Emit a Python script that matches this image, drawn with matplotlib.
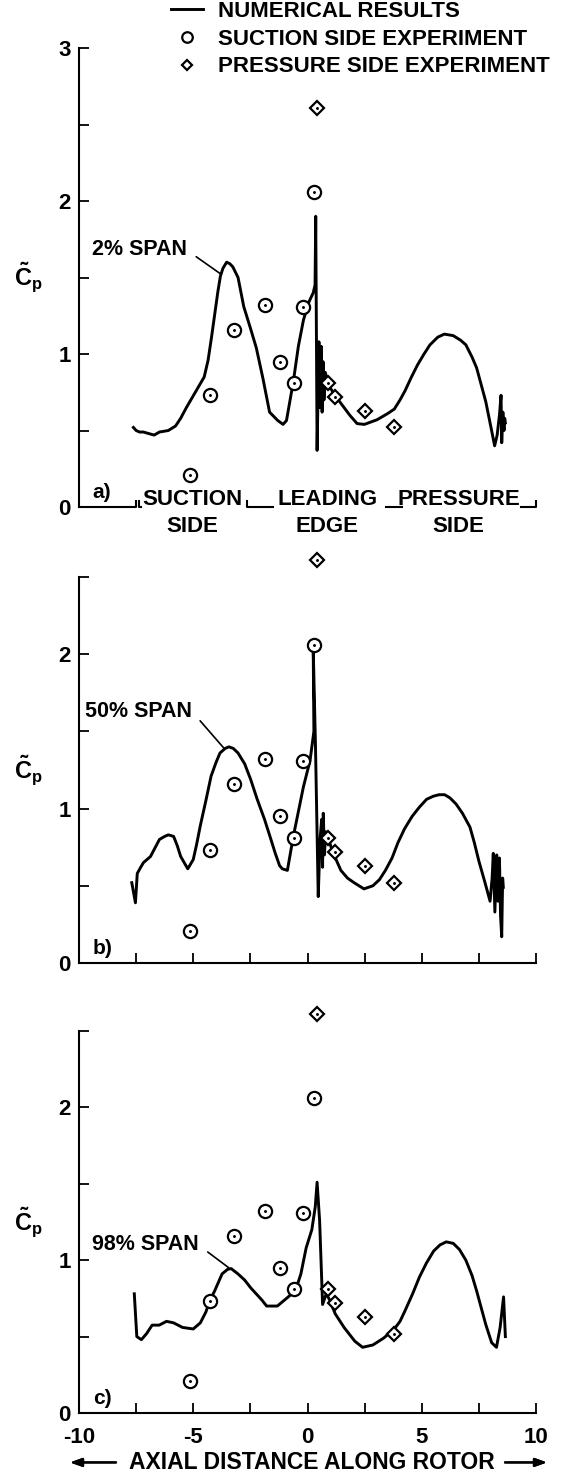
import matplotlib
matplotlib.use("Agg")
import matplotlib.pyplot as plt

# fonts: bold helvetica-like text, bold math for the C~p label
plt.rcParams['font.family'] = ['Liberation Sans', 'DejaVu Sans']
plt.rcParams['font.weight'] = 'bold'
plt.rcParams['mathtext.fontset'] = 'custom'
plt.rcParams['mathtext.rm'] = 'Liberation Sans:bold'
plt.rcParams['mathtext.it'] = 'Liberation Sans:bold'
plt.rcParams['mathtext.bf'] = 'Liberation Sans:bold'
plt.rcParams['axes.unicode_minus'] = False

# experiment points (same in all three panels)
suction_x = [-5.15, -4.28, -3.2, -1.88, -1.2, -0.6, -0.2, 0.28]
suction_y = [0.21, 0.73, 1.16, 1.32, 0.95, 0.81, 1.31, 2.06]
pressure_x = [0.4, 0.88, 1.22, 2.5, 3.8]
pressure_y = [2.61, 0.81, 0.72, 0.63, 0.52]

# numerical results, 2% span
span2_x = [-7.62, -7.5, -7.35, -7.18, -6.95, -6.71, -6.48, -6.09, -5.77, -5.55,
           -5.30, -4.91, -4.52, -4.35, -4.20, -3.92, -3.81, -3.70, -3.54, -3.40,
           -3.27, -3.04, -2.79, -2.50, -2.24, -1.95, -1.66, -1.30, -1.07, -0.92,
           -0.62, -0.40, -0.18, 0.03, 0.25, 0.33, 0.36, 0.42, 0.50, 0.55,
           0.60, 0.64, 0.68, 0.72, 0.78, 0.90, 1.25, 1.55, 1.85, 2.17,
           2.49, 3.04, 3.50, 3.80, 4.05, 4.27, 4.55, 4.82, 5.10, 5.36,
           5.70, 5.99, 6.38, 6.70, 6.93, 7.20, 7.40, 7.60, 7.80, 8.03,
           8.19, 8.30, 8.40, 8.47, 8.50, 8.55, 8.60, 8.63, 8.66]
span2_y = [0.52, 0.50, 0.49, 0.49, 0.48, 0.47, 0.49, 0.50, 0.53, 0.58,
           0.65, 0.75, 0.85, 0.96, 1.11, 1.41, 1.51, 1.56, 1.60, 1.59,
           1.57, 1.50, 1.31, 1.17, 1.04, 0.84, 0.62, 0.565, 0.54, 0.565,
           0.82, 1.05, 1.22, 1.33, 1.40, 1.45, 1.90, 0.37, 1.08, 0.65,
           1.05, 0.62, 0.95, 0.70, 0.88, 0.80, 0.72, 0.66, 0.60, 0.545,
           0.54, 0.57, 0.61, 0.64, 0.70, 0.76, 0.85, 0.93, 1.00, 1.06,
           1.11, 1.13, 1.12, 1.09, 1.06, 0.98, 0.91, 0.80, 0.69, 0.52,
           0.40, 0.47, 0.60, 0.73, 0.42, 0.62, 0.50, 0.58, 0.55]

# numerical results, 50% span
span50_x = [-7.69, -7.53, -7.45, -7.30, -7.18, -6.87, -6.48, -6.25, -6.09, -5.86,
            -5.70, -5.55, -5.24, -5.0, -4.85, -4.69, -4.45, -4.22, -4.00, -3.83,
            -3.60, -3.44, -3.25, -3.04, -2.75, -2.49, -2.20, -1.88, -1.60, -1.41,
            -1.22, -1.10, -0.88, -0.62, -0.40, -0.18, 0.11, 0.28, 0.25, 0.35,
            0.47, 0.55, 0.62, 0.66, 0.69, 0.74, 0.80, 0.88, 1.10, 1.46,
            1.75, 2.04, 2.47, 2.86, 3.15, 3.41, 3.70, 3.96, 4.25, 4.58,
            4.90, 5.21, 5.50, 5.76, 6.00, 6.23, 6.50, 6.78, 7.11, 7.30,
            7.50, 7.75, 7.99, 8.08, 8.13, 8.20, 8.28, 8.34, 8.40, 8.45,
            8.50, 8.54, 8.57]
span50_y = [0.52, 0.39, 0.58, 0.62, 0.65, 0.69, 0.80, 0.82, 0.83, 0.82,
            0.76, 0.69, 0.61, 0.67, 0.77, 0.89, 1.05, 1.21, 1.30, 1.36,
            1.39, 1.40, 1.39, 1.36, 1.29, 1.19, 1.06, 0.93, 0.80, 0.71,
            0.63, 0.61, 0.60, 0.82, 0.98, 1.14, 1.31, 1.50, 2.04, 1.40,
            0.43, 0.80, 0.93, 0.62, 0.97, 0.70, 0.85, 0.82, 0.72, 0.60,
            0.55, 0.52, 0.48, 0.50, 0.54, 0.60, 0.68, 0.78, 0.87, 0.95,
            1.01, 1.06, 1.08, 1.09, 1.09, 1.07, 1.03, 0.97, 0.88, 0.78,
            0.66, 0.53, 0.40, 0.55, 0.71, 0.33, 0.70, 0.40, 0.68, 0.30,
            0.17, 0.55, 0.49]

# numerical results, 98% span
span98_x = [-7.58, -7.47, -7.27, -7.04, -6.80, -6.49, -6.17, -5.86, -5.47, -5.0,
            -4.69, -4.45, -4.29, -4.06, -3.74, -3.50, -3.34, -3.04, -2.75, -2.49,
            -2.0, -1.79, -1.32, -0.92, -0.53, -0.29, -0.06, 0.19, 0.34, 0.42,
            0.53, 0.66, 0.82, 0.97, 1.21, 1.60, 2.07, 2.41, 2.86, 3.33,
            3.80, 4.05, 4.27, 4.60, 4.90, 5.20, 5.52, 5.80, 6.07, 6.38,
            6.65, 6.93, 7.20, 7.40, 7.60, 7.80, 8.06, 8.27, 8.43, 8.58, 8.66]
span98_y = [0.78, 0.50, 0.48, 0.52, 0.575, 0.575, 0.60, 0.59, 0.56, 0.55,
            0.59, 0.66, 0.73, 0.80, 0.91, 0.94, 0.945, 0.91, 0.87, 0.82,
            0.74, 0.70, 0.70, 0.75, 0.80, 0.91, 1.08, 1.20, 1.35, 1.51,
            1.26, 0.71, 0.78, 0.74, 0.65, 0.56, 0.47, 0.43, 0.445, 0.49,
            0.55, 0.60, 0.67, 0.78, 0.89, 0.98, 1.06, 1.10, 1.12, 1.11,
            1.07, 1.00, 0.90, 0.80, 0.69, 0.58, 0.46, 0.43, 0.56, 0.76, 0.50]

curves_x = [span2_x, span50_x, span98_x]
curves_y = [span2_y, span50_y, span98_y]
span_labels = ["2% SPAN", "50% SPAN", "98% SPAN"]
# label text position (right end) and end of its leader line
label_pos = [(-5.29, 1.68), (-5.06, 1.63), (-4.78, 1.10)]
leader_end = [(-3.77, 1.52), (-3.65, 1.39), (-3.44, 0.95)]
panel_letters = ["a)", "b)", "c)"]
y_tops = [3, 2.5, 2.5]

x_ticks = [-10, -7.5, -5, -2.5, 0, 2.5, 5, 7.5, 10]
x_tick_labels = ["-10", "", "-5", "", "0", "", "5", "", "10"]

# bottom of panel a: bracket pieces and blade region names
bracket_lines = [([-10, -7.5, -7.5], [0, 0, 0.04]),
                 ([-7.38, -7.38, -7.3], [0.04, 0, 0]),
                 ([-2.64, -2.64, -1.5], [0.04, 0, 0]),
                 ([3.42, 4.12], [0, 0]),
                 ([9.36, 10, 10], [0, 0, 0.04])]
region_x = [-5.03, 0.86, 6.62]
region_top = ["SUCTION", "LEADING", "PRESSURE"]
region_bottom = ["SIDE", "EDGE", "SIDE"]

fig = plt.figure(figsize=(5.63, 14.72), dpi=100)
left = 79 / 563
width = 457 / 563
axes_rects = [[left, 1 - 507 / 1472, width, 459 / 1472],
              [left, 1 - 963 / 1472, width, 386 / 1472],
              [left, 1 - 1413 / 1472, width, 382 / 1472]]

axes = []
for i in range(3):
    ax = fig.add_axes(axes_rects[i])
    axes.append(ax)
    line, = ax.plot(curves_x[i], curves_y[i], color='black', lw=2.1,
                    solid_joinstyle='round')
    circ, = ax.plot(suction_x, suction_y, 'o', ms=9.5, mfc='white', mec='black',
                    mew=1.6, clip_on=False)
    ax.plot(suction_x, suction_y, '.', ms=2.2, color='black', clip_on=False)
    diam, = ax.plot(pressure_x, pressure_y, 'D', ms=7, mfc='white', mec='black',
                    mew=1.6, clip_on=False)
    ax.plot(pressure_x, pressure_y, '.', ms=2.2, color='black', clip_on=False)
    if i == 0:
        handles = [line, circ, diam]

    ax.set_xlim(-10, 10)
    ax.set_ylim(0, y_tops[i])
    yt = [k * 0.5 for k in range(int(y_tops[i] * 2) + 1)]
    ylab = [str(int(v)) if v == int(v) else "" for v in yt]
    ax.set_yticks(yt, ylab)
    ax.spines['top'].set_visible(False)
    ax.spines['right'].set_visible(False)
    ax.spines['left'].set_linewidth(1.5)
    ax.spines['bottom'].set_linewidth(1.5)
    ax.tick_params(axis='y', direction='in', length=7, width=1.3, labelsize=16, pad=6)
    ax.tick_params(axis='x', direction='in', length=7, width=1.3, labelsize=16, pad=10)
    if i == 0:
        ax.spines['bottom'].set_visible(False)
        ax.set_xticks([])
    else:
        ax.set_xticks(x_ticks, x_tick_labels if i == 2 else [""] * len(x_ticks))

    ax.text(-9.4, 0.06, panel_letters[i], fontsize=15, ha='left', va='baseline')
    ax.text(-0.11, 0.5, r'$\tilde{C}_p$', transform=ax.transAxes, fontsize=17,
            ha='center', va='center')
    ax.annotate(span_labels[i], xy=leader_end[i], xytext=label_pos[i],
                fontsize=15.5, ha='right', va='center',
                arrowprops=dict(arrowstyle='-', lw=1.2, color='black',
                                relpos=(1, 0.5), shrinkA=6, shrinkB=0))

# bracket along the bottom of panel a
ax = axes[0]
for bx, by in bracket_lines:
    ax.plot(bx, by, color='black', lw=1.5, clip_on=False)
for i in range(3):
    ax.text(region_x[i], 0.01, region_top[i], fontsize=16, ha='center', va='baseline')
    ax.text(region_x[i], -0.165, region_bottom[i], fontsize=16, ha='center', va='baseline')

# legend at the top
axes[0].legend(handles, ["NUMERICAL RESULTS", "SUCTION SIDE EXPERIMENT",
                         "PRESSURE SIDE EXPERIMENT"],
               loc='upper left', bbox_to_anchor=(171 / 563, 1 - 1 / 1472),
               bbox_transform=fig.transFigure, frameon=False, fontsize=16,
               handlelength=1.45, handletextpad=0.65, labelspacing=0.3,
               borderpad=0, borderaxespad=0, markerscale=0.8)

# axis title with arrows
fig.text(312 / 563, 0.002, "AXIAL DISTANCE ALONG ROTOR", fontsize=16.5,
         ha='center', va='baseline')
arrow = dict(arrowstyle='-|>,head_length=0.7,head_width=0.25', lw=1.6, color='black',
             shrinkA=0, shrinkB=0)
fig.add_artist(plt.annotate('', xy=(70 / 563, 0.0065), xytext=(116 / 563, 0.0065),
                            xycoords='figure fraction', arrowprops=arrow))
fig.add_artist(plt.annotate('', xy=(547 / 563, 0.0065), xytext=(505 / 563, 0.0065),
                            xycoords='figure fraction', arrowprops=arrow))

fig.savefig("out.png", dpi=100)
